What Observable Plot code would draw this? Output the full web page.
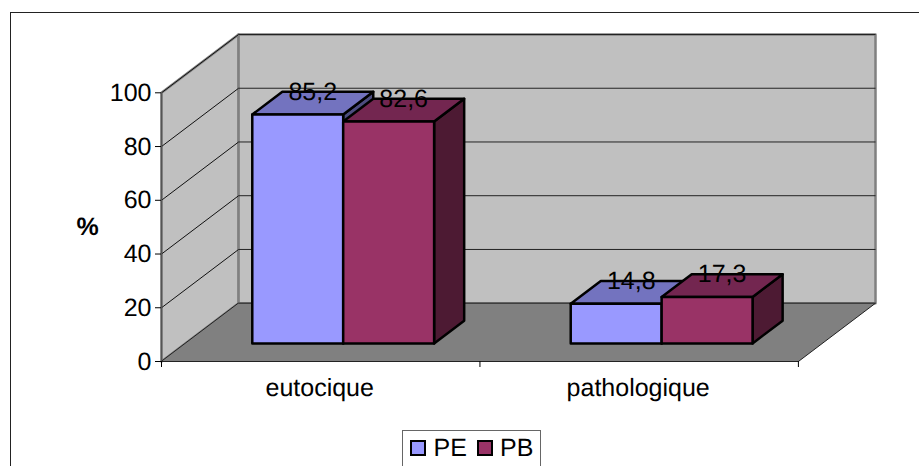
<!DOCTYPE html>
<html>
<head>
<meta charset="utf-8">
<script src="https://cdn.jsdelivr.net/npm/d3@7"></script>
<script src="https://cdn.jsdelivr.net/npm/@observablehq/plot@0.6"></script>
<style>
  html, body { margin: 0; padding: 0; background: #fff; overflow: hidden; text-rendering: geometricPrecision; }
  #frame { position: absolute; left: 10px; top: 12px; width: 909px; height: 454px;
           border-left: 1.5px solid #222; border-top: 1.5px solid #222; box-sizing: border-box; }
  #chart { position: absolute; left: 0; top: 0; }
  #chart svg { display: block; }
  #legend { position: absolute; left: 402px; top: 430px; width: 139px; height: 50px; box-sizing: border-box;
            border: 1.5px solid #666; font: 25px "Liberation Sans", Arial, sans-serif; color: #000; }
  .key { position: absolute; top: 9px; width: 12px; height: 12px; border: 2px solid #000; box-sizing: content-box; }
  .lab { position: absolute; top: 3px; line-height: 28px; }
</style>
</head>
<body>
<div id="frame"></div>
<div id="chart"></div>
<div id="legend"></div>
<script>
// Data
const categories = ["eutocique", "pathologique"];
const seriesNames = ["PE", "PB"];
const peValues = [85.2, 14.8];
const pbValues = [82.6, 17.3];
const labelsPE = ["85,2", "14,8"];
const labelsPB = ["82,6", "17,3"];
const yTicks = [0, 20, 40, 60, 80, 100];
const gridTicks = [20, 40, 60, 80, 100];
const axisLabel = "%";

// Series colours: front, top, side
const peColors = ["#9999ff", "#7373bf", "#4d4d80"];
const pbColors = ["#993366", "#732650", "#4d1a33"];

// Oblique projection, in data units of the two linear scales
const depthX = 0.2421, depthY = 21.7;
const px = (c, d) => c + d * depthX;
const py = (v, d) => v + d * depthY;
const P = (c, v, d) => ({x: px(c, d), y: py(v, d)});

const gapStart = 0.21, barWidth = 0.2855, d0 = 0.31, d1 = 0.70;
const nCat = categories.length;
const fontSize = 25;

const face = (pts, fill, stroke, strokeWidth) =>
  Plot.line(pts, {x: "x", y: "y", curve: "linear-closed", fill, stroke, strokeWidth, strokeLinejoin: "round"});

function bar(catIndex, serIndex, v, colors) {
  const a = catIndex + gapStart + serIndex * barWidth, b = a + barWidth;
  return [
    face([P(b, 0, d0), P(b, 0, d1), P(b, v, d1), P(b, v, d0)], colors[2], "#000", 2.5),
    face([P(a, v, d0), P(b, v, d0), P(b, v, d1), P(a, v, d1)], colors[1], "#000", 2.5),
    face([P(a, 0, d0), P(b, 0, d0), P(b, v, d0), P(a, v, d0)], colors[0], "#000", 2.5)
  ];
}

const labels = [];
categories.forEach((c, i) => {
  [[peValues, labelsPE], [pbValues, labelsPB]].forEach(([vals, txt], s) => {
    const mid = i + gapStart + (s + 0.5) * barWidth;
    labels.push({x: px(mid, (d0 + d1) / 2), y: py(vals[i], d1), text: txt[i]});
  });
});

const chart = Plot.plot({
  width: 919,
  height: 430,
  marginLeft: 161,
  marginRight: 44,
  marginTop: 34,
  marginBottom: 69,
  x: {domain: [0, px(nCat, 1)], axis: null},
  y: {domain: [0, py(100, 1)], axis: null},
  style: {fontFamily: '"Liberation Sans", Arial, sans-serif', background: "transparent", color: "#000", overflow: "visible"},
  marks: [
    // left wall, back wall, floor
    face([P(0, 0, 0), P(0, 0, 1), P(0, 100, 1), P(0, 100, 0)], "#c0c0c0", "#808080", 2.5),
    face([P(0, 0, 1), P(nCat, 0, 1), P(nCat, 100, 1), P(0, 100, 1)], "#c0c0c0", "#808080", 2.5),
    // gridlines
    Plot.link(gridTicks, {x1: () => px(0, 0), y1: v => py(v, 0), x2: () => px(0, 1), y2: v => py(v, 1), stroke: "#111", strokeWidth: 1}),
    Plot.link(gridTicks, {x1: () => px(0, 1), y1: v => py(v, 1), x2: () => px(nCat, 1), y2: v => py(v, 1), stroke: "#222", strokeWidth: 1}),
    face([P(0, 0, 0), P(nCat, 0, 0), P(nCat, 0, 1), P(0, 0, 1)], "#808080", "#222", 1),
    // bars
    ...categories.flatMap((c, i) => [
      ...bar(i, 0, peValues[i], peColors),
      ...bar(i, 1, pbValues[i], pbColors)
    ]),
    // axes
    Plot.ruleX([0], {y1: 0, y2: () => py(100, 0), stroke: "#555", strokeWidth: 1.5}),
    Plot.axisY({ticks: yTicks, tickSize: 6, tickPadding: 4, fontSize, label: null, tickFormat: d => String(d), stroke: "#000"}),
    Plot.axisX({ticks: d3.range(nCat + 1), tickSize: 6, tickFormat: () => "", label: null, stroke: "#000"}),
    Plot.axisX({ticks: categories.map((c, i) => i + 0.5), tickSize: 0, tickPadding: 17, fontSize, label: null,
                tickFormat: d => categories[Math.floor(d)], dx: -1}),
    Plot.text([axisLabel], {text: d => d, y: () => 50, frameAnchor: "left", dx: -74, textAnchor: "middle", fontSize, fontWeight: "bold"}),
    // data labels
    Plot.text(labels, {x: "x", y: "y", text: "text", fontSize, fill: "#000"})
  ]
});
document.getElementById("chart").append(chart);

// Legend below the SVG
const legend = document.getElementById("legend");
const keyLeft = [6.5, 73.5], labLeft = [30.5, 97];
seriesNames.forEach((name, i) => {
  const k = document.createElement("div");
  k.className = "key"; k.style.left = keyLeft[i] + "px";
  k.style.background = [peColors, pbColors][i][0];
  const t = document.createElement("div");
  t.className = "lab"; t.style.left = labLeft[i] + "px"; t.textContent = name;
  legend.append(k, t);
});
</script>
</body>
</html>
